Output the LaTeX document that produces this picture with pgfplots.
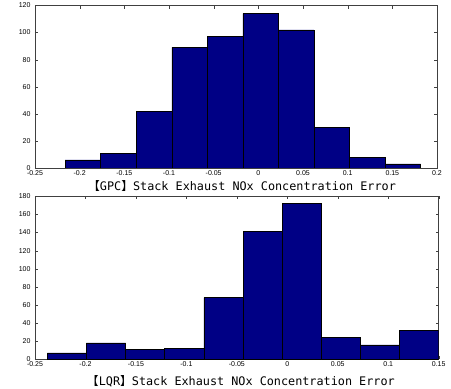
\documentclass[border=0pt]{standalone}
\usepackage{fontspec}
\setmainfont{Liberation Sans}
\newfontfamily\cjk{Noto Sans CJK SC}
\newfontfamily\labfont{DejaVu Sans Mono}
\usepackage{pgfplots}
\pgfplotsset{compat=1.18}
\definecolor{histblue}{rgb}{0,0,0.52}

\pgfplotsset{histax/.style={
  scale only axis,
  axis line style={draw=black!75},
  tick style={draw=black!75},
  major tick length=3pt,
  tick align=inside,
  xtick pos=both, ytick pos=both,
  tick label style={font=\fontsize{7}{8}\selectfont},
  /pgf/number format/assume math mode=true,
  /pgf/number format/fixed,
  /pgf/number format/precision=2,
  xticklabel style={yshift=1pt},
  yticklabel style={xshift=-1pt},
  ymin=0,
  enlargelimits=false,
  axis on top=false,
}}

\begin{document}
\begin{tikzpicture}[x=1pt,y=1pt]
\useasboundingbox (0,0) rectangle (451,389);
\begin{axis}[histax,
  at={(35pt,221pt)}, anchor=south west,
  width=402pt, height=162.5pt,
  xmin=-0.25, xmax=0.2, ymax=120,
  xtick={-0.25,-0.2,-0.15,-0.1,-0.05,0,0.05,0.1,0.15,0.2},
  xticklabels={-0.25,-0.2,-0.15,-0.1,-0.05,0,0.05,0.1,0.15,0.2},
  ytick={0,20,40,60,80,100,120},
  xlabel={{\cjk 【}GPC{\cjk 】}Stack Exhaust NOx Concentration Error},
  xlabel style={at={(axis description cs:0.515,0)}, anchor=base, yshift=-23pt, font=\labfont\fontsize{11.8}{12}\selectfont},
]
\addplot[ybar interval, fill=histblue, draw=black, line width=0.5pt] coordinates {
(-0.2164,6) (-0.1766,11) (-0.1368,42) (-0.0969,89) (-0.0571,97)
(-0.0173,114) (0.0225,102) (0.0623,30) (0.1022,8) (0.1420,3) (0.1818,0)
};
\end{axis}
\begin{axis}[histax,
  at={(35pt,29.7pt)}, anchor=south west,
  width=403.7pt, height=163pt,
  xmin=-0.25, xmax=0.15, ymax=180,
  xtick={-0.25,-0.2,-0.15,-0.1,-0.05,0,0.05,0.1,0.15},
  xticklabels={-0.25,-0.2,-0.15,-0.1,-0.05,0,0.05,0.1,0.15},
  ytick={0,20,40,60,80,100,120,140,160,180},
  xlabel={{\cjk 【}LQR{\cjk 】}Stack Exhaust NOx Concentration Error},
  xlabel style={at={(axis description cs:0.51,0)}, anchor=base, yshift=-26pt, font=\labfont\fontsize{11.8}{12}\selectfont},
]
\addplot[ybar interval, fill=histblue, draw=black, line width=0.5pt] coordinates {
(-0.2378,7) (-0.1990,18) (-0.1602,11) (-0.1215,12) (-0.0827,68)
(-0.0439,141) (-0.0051,172) (0.0337,24) (0.0725,16) (0.1112,32) (0.1500,0)
};
\end{axis}
\end{tikzpicture}
\end{document}
